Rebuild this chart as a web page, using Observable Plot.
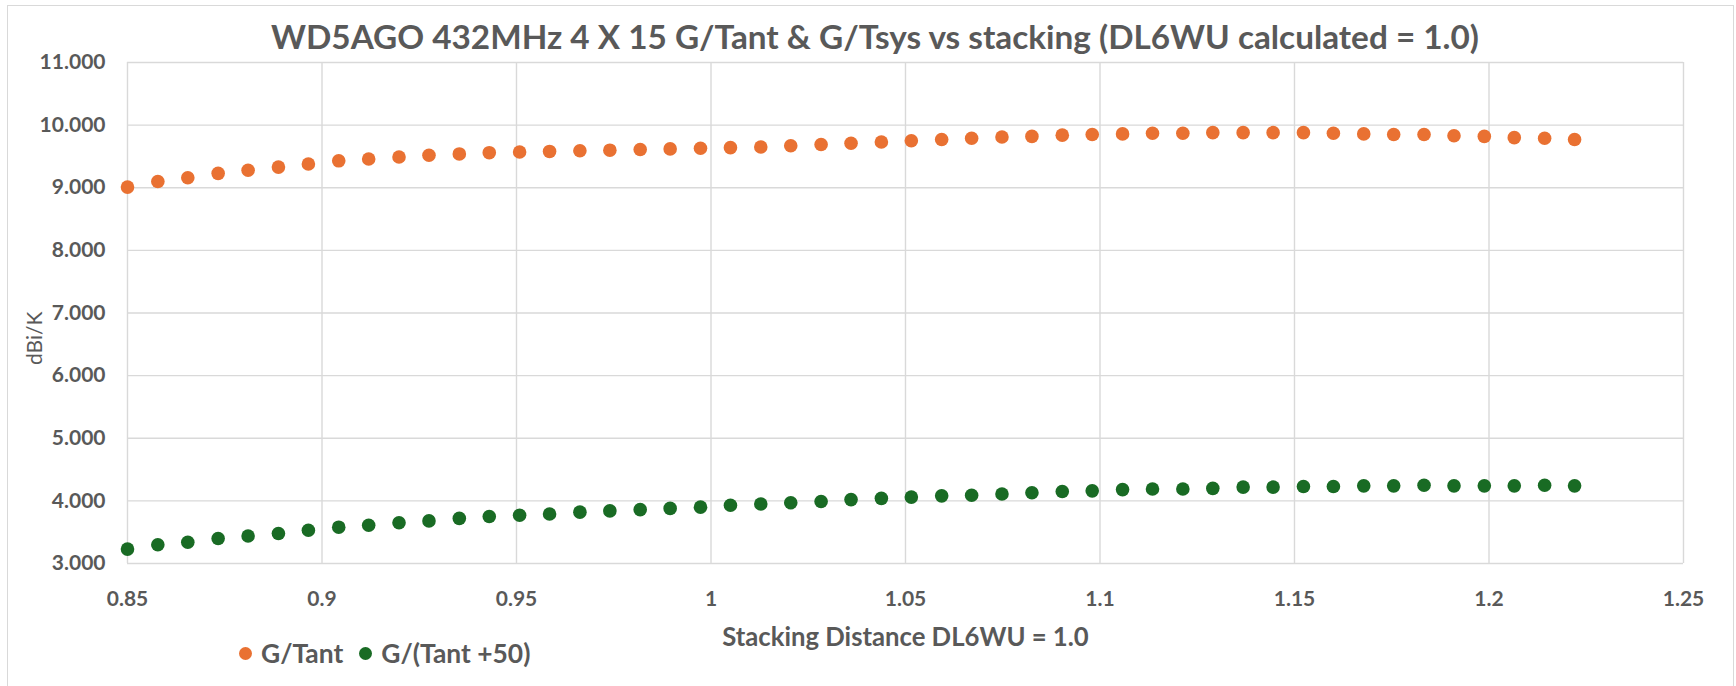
<!DOCTYPE html>
<html>
<head>
<meta charset="utf-8">
<script src="https://cdn.jsdelivr.net/npm/d3@7"></script>
<script src="https://cdn.jsdelivr.net/npm/@observablehq/plot@0.6"></script>
<style>
  html, body { margin: 0; padding: 0; background: #ffffff; }
  #wrap { position: relative; width: 1736px; height: 686px; overflow: hidden; background: #fff; font-family: Lato, "Open Sans", sans-serif; color: #595959; }
  #border { position: absolute; left: 7px; top: 5px; width: 1727px; height: 700px; border: 1px solid #d9d9d9; box-sizing: border-box; pointer-events: none; }
  #title { height: 52px; box-sizing: border-box; padding-top: 16px; padding-left: 14px; line-height: 40px; text-align: center; font-weight: 700; white-space: nowrap; }
  #chart svg { display: block; }
  #legend { height: 26px; margin-top: -10px; display: flex; align-items: center; padding-left: 239px; font-weight: 700; white-space: nowrap; }
  .item { display: flex; align-items: center; }
  .sw { width: 13px; height: 13px; border-radius: 50%; margin-right: 9px; }
</style>
</head>
<body>
<div id="wrap">
  <div id="border"></div>
  <div id="title"></div>
  <div id="chart"></div>
  <div id="legend"></div>
</div>
<script>
// ---- data ----
const titleText = "WD5AGO 432MHz 4 X 15 G/Tant & G/Tsys vs stacking (DL6WU calculated = 1.0)";
const xLabel = "Stacking Distance DL6WU = 1.0";
const yLabel = "dBi/K";
const seriesNames = ["G/Tant", "G/(Tant +50)"];
const seriesColors = ["#E97132", "#196B24"];

const stacking = [
  0.8500, 0.8578, 0.8655, 0.8733, 0.8810, 0.8888, 0.8965, 0.9043, 0.9120, 0.9198,
  0.9275, 0.9353, 0.9430, 0.9508, 0.9585, 0.9663, 0.9740, 0.9818, 0.9895, 0.9973,
  1.0050, 1.0128, 1.0205, 1.0283, 1.0360, 1.0438, 1.0515, 1.0593, 1.0670, 1.0748,
  1.0825, 1.0903, 1.0980, 1.1058, 1.1135, 1.1213, 1.1290, 1.1368, 1.1445, 1.1523,
  1.1600, 1.1678, 1.1755, 1.1833, 1.1910, 1.1988, 1.2065, 1.2143, 1.2220
];
const gTant = [
  9.01, 9.10, 9.16, 9.23, 9.28, 9.33, 9.38, 9.43, 9.46, 9.49,
  9.52, 9.54, 9.56, 9.57, 9.58, 9.59, 9.60, 9.61, 9.62, 9.63,
  9.64, 9.65, 9.67, 9.69, 9.71, 9.73, 9.75, 9.77, 9.79, 9.81,
  9.82, 9.84, 9.85, 9.86, 9.87, 9.87, 9.88, 9.88, 9.88, 9.88,
  9.87, 9.86, 9.85, 9.85, 9.83, 9.82, 9.80, 9.79, 9.77
];
const gTant50 = [
  3.23, 3.30, 3.34, 3.40, 3.44, 3.48, 3.53, 3.58, 3.61, 3.65,
  3.68, 3.72, 3.75, 3.77, 3.79, 3.82, 3.84, 3.86, 3.88, 3.90,
  3.93, 3.95, 3.97, 3.99, 4.02, 4.04, 4.06, 4.08, 4.09, 4.11,
  4.13, 4.15, 4.16, 4.18, 4.19, 4.19, 4.20, 4.22, 4.22, 4.23,
  4.23, 4.24, 4.24, 4.25, 4.24, 4.24, 4.24, 4.25, 4.24
];
const xTicks = [0.85, 0.9, 0.95, 1, 1.05, 1.1, 1.15, 1.2, 1.25];
const xTickLabels = ["0.85", "0.9", "0.95", "1", "1.05", "1.1", "1.15", "1.2", "1.25"];
const yTicks = [3, 4, 5, 6, 7, 8, 9, 10, 11];
const yTickLabels = ["3.000", "4.000", "5.000", "6.000", "7.000", "8.000", "9.000", "10.000", "11.000"];

// ---- build ----
const rows = [];
stacking.forEach((x, i) => {
  rows.push({x, v: gTant[i], s: seriesNames[0]});
  rows.push({x, v: gTant50[i], s: seriesNames[1]});
});

// font sizes fitted to text widths measured on the reference
const ctx = document.createElement("canvas").getContext("2d");
function fit(text, weight, target) {
  ctx.font = `${weight} 100px Lato`;
  return Math.round(1000 * target / ctx.measureText(text).width) / 10;
}
const titleSize = fit(titleText, 700, 1208);
const tickSize = fit("11.000", 700, 66);
const xLabelSize = fit(xLabel, 700, 366);
const legendSize = fit("G/(Tant +50)", 700, 149);
const yLabelSize = 21;

const title = document.getElementById("title");
title.textContent = titleText;
title.style.fontSize = titleSize + "px";

const grid = {stroke: "#d9d9d9", strokeOpacity: 1, strokeWidth: 1.4};
const chart = Plot.plot({
  width: 1736,
  height: 598,
  marginLeft: 127,
  marginRight: 53,
  marginTop: 10,
  marginBottom: 87,
  style: {fontFamily: "Lato, 'Open Sans', sans-serif", color: "#595959", background: "transparent", overflow: "visible"},
  x: {domain: [0.85, 1.25]},
  y: {domain: [3, 11]},
  color: {domain: seriesNames, range: seriesColors},
  marks: [
    Plot.gridX(xTicks, grid),
    Plot.gridY(yTicks, grid),
    Plot.axisX(xTicks, {tickSize: 0, tickPadding: 28, tickFormat: (d, i) => xTickLabels[i], fontSize: tickSize, fontWeight: "bold", label: null}),
    Plot.axisY(yTicks, {tickSize: 0, tickPadding: 22, tickFormat: (d, i) => yTickLabels[i], fontSize: tickSize, fontWeight: "bold", label: null}),
    Plot.text([xLabel], {frameAnchor: "bottom", dy: 82, text: d => d, fontSize: xLabelSize, fontWeight: "bold", fill: "#595959"}),
    Plot.text([yLabel], {frameAnchor: "left", dx: -92, dy: 52, rotate: -90, text: d => d, fontSize: yLabelSize, fill: "#595959"}),
    Plot.dot(rows, {x: "x", y: "v", fill: "s", r: 6.8})
  ]
});
document.getElementById("chart").appendChild(chart);

const legend = document.getElementById("legend");
legend.style.fontSize = legendSize + "px";
seriesNames.forEach((name, i) => {
  const item = document.createElement("div");
  item.className = "item";
  if (i > 0) item.style.marginLeft = "16px";
  const sw = document.createElement("span");
  sw.className = "sw";
  sw.style.background = seriesColors[i];
  const t = document.createElement("span");
  t.textContent = name;
  item.appendChild(sw);
  item.appendChild(t);
  legend.appendChild(item);
});
</script>
</body>
</html>
